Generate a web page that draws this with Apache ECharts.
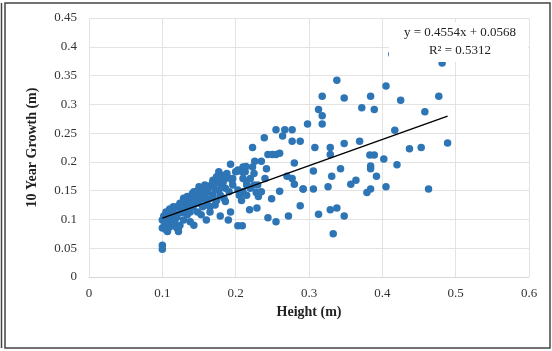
<!DOCTYPE html>
<html>
<head>
<meta charset="utf-8">
<script src="https://cdn.jsdelivr.net/npm/echarts@6/dist/echarts.min.js"></script>
<style>
  html, body { margin: 0; padding: 0; background: #fff; }
  #chart { width: 552px; height: 351px; }
</style>
</head>
<body>
<div id="chart"></div>
<script>
// Height (m) vs 10 year growth (m)
const heights = [
  0.1, 0.1, 0.1, 0.1, 0.105, 0.11, 0.105, 0.11, 0.115, 0.117, 0.122, 0.124, 0.12, 0.126, 0.129,
  0.134, 0.136, 0.138, 0.141, 0.143, 0.146, 0.148, 0.15, 0.153, 0.155, 0.158, 0.16, 0.162, 0.165,
  0.16, 0.153, 0.148, 0.143, 0.138, 0.134, 0.129, 0.142, 0.146, 0.15, 0.155, 0.138, 0.134, 0.129,
  0.124, 0.12, 0.115, 0.11, 0.105, 0.112, 0.103, 0.107, 0.12, 0.122, 0.108, 0.113, 0.118, 0.127,
  0.167, 0.169, 0.174, 0.177, 0.181, 0.186, 0.188, 0.172, 0.177, 0.181, 0.186, 0.191, 0.196, 0.196,
  0.2, 0.203, 0.21, 0.213, 0.215, 0.21, 0.205, 0.208, 0.203, 0.215, 0.22, 0.225, 0.184, 0.186,
  0.179, 0.167, 0.172, 0.165, 0.169, 0.174, 0.162, 0.158, 0.179, 0.215, 0.22, 0.225, 0.23, 0.235,
  0.179, 0.19, 0.193, 0.203, 0.209, 0.193, 0.219, 0.229, 0.244, 0.255, 0.272, 0.231, 0.249, 0.228,
  0.26, 0.288, 0.223, 0.226, 0.235, 0.214, 0.223, 0.242, 0.204, 0.21, 0.21, 0.24, 0.27, 0.277,
  0.244, 0.25, 0.255, 0.26, 0.239, 0.255, 0.267, 0.277, 0.264, 0.277, 0.288, 0.28, 0.28, 0.292,
  0.298, 0.306, 0.308, 0.313, 0.318, 0.318, 0.318, 0.329, 0.329, 0.326, 0.331, 0.338, 0.329, 0.313,
  0.348, 0.333, 0.343, 0.348, 0.348, 0.338, 0.357, 0.364, 0.369, 0.372, 0.379, 0.384, 0.384, 0.384,
  0.384, 0.383, 0.389, 0.389, 0.392, 0.402, 0.405, 0.405, 0.413, 0.417, 0.42, 0.425, 0.437, 0.453,
  0.458, 0.463, 0.477, 0.4815, 0.489, 0.306, 0.292,
  0.102, 0.108, 0.113, 0.118, 0.125, 0.131, 0.136, 0.14, 0.144, 0.151, 0.157, 0.163, 0.168, 0.173,
  0.176, 0.183, 0.189, 0.195, 0.148, 0.156, 0.131, 0.116
];
const growth = [
  0.099, 0.085, 0.055, 0.048, 0.082, 0.087, 0.113, 0.107, 0.113, 0.099, 0.085, 0.09, 0.104, 0.118, 0.128,
  0.131, 0.122, 0.137, 0.145, 0.148, 0.14, 0.15, 0.157, 0.145, 0.137, 0.142, 0.133, 0.125, 0.113,
  0.099, 0.108, 0.113, 0.09, 0.096, 0.108, 0.099, 0.122, 0.131, 0.128, 0.122, 0.113, 0.14, 0.137,
  0.128, 0.122, 0.122, 0.118, 0.099, 0.096, 0.09, 0.079, 0.085, 0.079, 0.094, 0.103, 0.088, 0.112,
  0.16, 0.168, 0.174, 0.183, 0.177, 0.171, 0.18, 0.151, 0.151, 0.16, 0.154, 0.148, 0.16, 0.171,
  0.183, 0.186, 0.191, 0.183, 0.16, 0.148, 0.142, 0.133, 0.151, 0.142, 0.154, 0.16, 0.137, 0.131,
  0.142, 0.137, 0.125, 0.122, 0.142, 0.133, 0.148, 0.16, 0.166, 0.166, 0.171, 0.18, 0.16, 0.148,
  0.106, 0.099, 0.113, 0.089, 0.089, 0.196, 0.117, 0.12, 0.103, 0.096, 0.106, 0.14, 0.136, 0.147,
  0.149, 0.124, 0.225, 0.201, 0.201, 0.192, 0.191, 0.188, 0.184, 0.182, 0.171, 0.171, 0.175, 0.171,
  0.213, 0.213, 0.213, 0.215, 0.242, 0.256, 0.256, 0.256, 0.245, 0.236, 0.236, 0.198, 0.161, 0.153,
  0.266, 0.184, 0.225, 0.291, 0.314, 0.28, 0.266, 0.225, 0.213, 0.157, 0.175, 0.342, 0.117, 0.109,
  0.311, 0.075, 0.188, 0.232, 0.106, 0.12, 0.161, 0.168, 0.236, 0.294, 0.147, 0.314, 0.193, 0.188,
  0.153, 0.212, 0.212, 0.291, 0.175, 0.205, 0.332, 0.157, 0.387, 0.255, 0.195, 0.307, 0.223, 0.225,
  0.287, 0.153, 0.314, 0.372, 0.233, 0.153, 0.153,
  0.106, 0.094, 0.104, 0.108, 0.112, 0.117, 0.127, 0.126, 0.133, 0.138, 0.152, 0.155, 0.162, 0.163,
  0.171, 0.165, 0.173, 0.168, 0.128, 0.149, 0.124, 0.092
];
// linear trendline endpoints, as drawn
const trendX = [0.1, 0.489];
const trendY = [0.1023, 0.2795];
const xTicks = [0, 0.1, 0.2, 0.3, 0.4, 0.5, 0.6];
const yTicks = [0, 0.05, 0.1, 0.15, 0.2, 0.25, 0.3, 0.35, 0.4, 0.45];

const serif = '"Liberation Serif", "DejaVu Serif", serif';
const chart = echarts.init(document.getElementById('chart'));

chart.setOption({
  backgroundColor: '#fff',
  animation: false,
  grid: { left: 89, right: 23, top: 18, bottom: 74 },
  xAxis: {
    type: 'value',
    min: 0, max: 0.6, interval: 0.1,
    name: 'Height (m)',
    nameLocation: 'middle',
    nameGap: 26,
    nameTextStyle: { fontFamily: serif, fontWeight: 'bold', fontSize: 14, color: '#222' },
    axisLine: { show: true, lineStyle: { color: '#d9d9d9' } },
    axisTick: { show: false },
    splitLine: { lineStyle: { color: '#e3e3e3' } },
    axisLabel: { fontFamily: serif, fontSize: 13, color: '#333', margin: 10,
      formatter: v => xTicks.includes(+v.toFixed(2)) ? String(+v.toFixed(2)) : '' }
  },
  yAxis: {
    type: 'value',
    min: 0, max: 0.45, interval: 0.05,
    name: '10 Year Growth (m)',
    nameLocation: 'middle',
    nameGap: 50,
    nameTextStyle: { fontFamily: serif, fontWeight: 'bold', fontSize: 14, color: '#222' },
    axisLine: { show: false },
    axisTick: { show: false },
    splitLine: { lineStyle: { color: '#e3e3e3' } },
    axisLabel: { fontFamily: serif, fontSize: 13, color: '#333', margin: 12,
      formatter: v => yTicks.includes(+v.toFixed(2)) ? String(+v.toFixed(2)) : '' }
  },
  series: [
    {
      type: 'scatter',
      symbolSize: 7.5,
      itemStyle: { color: '#2e75b6', opacity: 1 },
      data: heights.map((h, i) => [h, growth[i]]),
      z: 2
    },
    {
      type: 'line',
      data: trendX.map((x, i) => [x, trendY[i]]),
      showSymbol: false,
      lineStyle: { color: '#000', width: 1.5 },
      z: 3
    }
  ],
  graphic: [
    { type: 'rect', shape: { x: 5, y: 3, width: 545, height: 345 },
      style: { fill: 'none', stroke: '#444', lineWidth: 1.5 }, z: 10 },
    { type: 'line', shape: { x1: 1.5, y1: 3, x2: 1.5, y2: 348 },
      style: { stroke: '#444', lineWidth: 1.5 }, z: 10 },
    // white label box of the trendline, hides what lies under it
    { type: 'rect', shape: { x: 389, y: 22, width: 139, height: 40 },
      style: { fill: '#fff' }, z: 100 },
    { type: 'text', x: 460, y: 33, z: 101,
      style: { text: 'y = 0.4554x + 0.0568', font: '13px ' + serif, fill: '#222',
        textAlign: 'center', textVerticalAlign: 'middle' } },
    { type: 'text', x: 460, y: 51, z: 101,
      style: { text: 'R² = 0.5312', font: '13px ' + serif, fill: '#222',
        textAlign: 'center', textVerticalAlign: 'middle' } }
  ]
});
</script>
</body>
</html>
